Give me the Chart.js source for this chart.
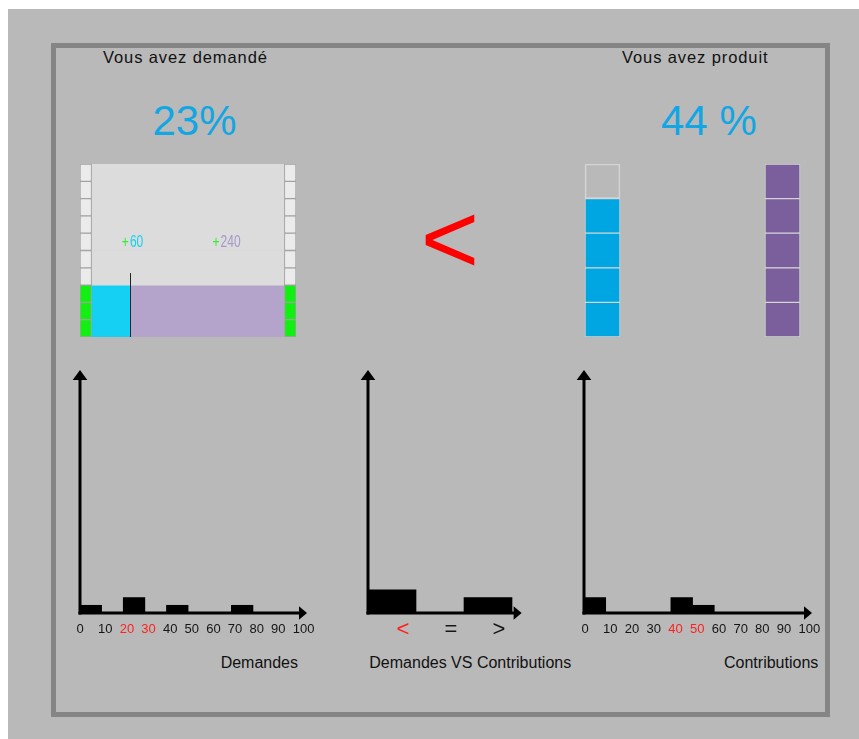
<!DOCTYPE html>
<html><head><meta charset="utf-8">
<script src="https://cdn.jsdelivr.net/npm/chart.js@4.4.1/dist/chart.umd.min.js"></script>
<style>
html,body{margin:0;padding:0;background:#fff;width:859px;height:739px;overflow:hidden;font-family:"Liberation Sans",Arial,sans-serif;}
#bg{position:absolute;left:8px;top:9px;width:851px;height:730px;background:#b9b9b9;}
#frame{position:absolute;left:51px;top:43px;width:779px;height:674px;border:5px solid #858585;box-sizing:border-box;}
.t{position:absolute;white-space:nowrap;line-height:1;color:#111;}
.head{font-size:16.5px;letter-spacing:0.9px;top:49.3px;}
.pct{font-size:42px;top:99.5px;color:#12a6e3;}
.cap{font-size:16px;top:654.8px;}
canvas{position:absolute;}
</style></head>
<body>
<div id="bg"></div>
<div id="frame"></div>
<div class="t head" style="left:103px">Vous avez demandé</div>
<div class="t head" style="left:622px">Vous avez produit</div>
<div class="t pct" id="pctDemand" style="left:152.5px"></div>
<div class="t pct" id="pctProduced" style="left:661px"></div>
<div class="t" id="bigCmp" style="left:350px;width:200px;text-align:center;font-size:100px;top:188px;color:#ff0000;"></div>
<div class="t cap" style="right:561px">Demandes</div>
<div class="t cap" style="left:369.3px">Demandes VS Contributions</div>
<div class="t cap" style="left:724px">Contributions</div>

<canvas id="topLeft" width="240" height="200" style="left:70px;top:150px"></canvas>
<canvas id="topRight" width="310" height="200" style="left:540px;top:150px"></canvas>
<canvas id="histDemand" width="271" height="300" style="left:60px;top:360px"></canvas>
<canvas id="histCompare" width="200" height="300" style="left:348px;top:360px"></canvas>
<canvas id="histContrib" width="272" height="300" style="left:564px;top:360px"></canvas>

<script>
// ---------- data ----------
const demandPercent = '23%';
const producedPercent = '44 %';
const comparisonSymbol = '<';

const demandSplit = [60, 240];          // cyan part, purple part
const demandSplitText = ['60', '240'];
const demandCellsTotal = 10;
const demandCellsFilled = 3;

const producedCellsTotal = 5;
const producedCellsFilled = [4, 5];     // cyan column, purple column

const binTicks = [0, 10, 20, 30, 40, 50, 60, 70, 80, 90, 100];
const demandCounts = [1, 0, 2, 0, 1, 0, 0, 1, 0, 0];
const demandHighlight = ['20', '30'];
const contribCounts = [2, 0, 0, 0, 2, 1, 0, 0, 0, 0];
const contribHighlight = ['40', '50'];
const compareLabels = ['<', '=', '>'];
const compareCounts = [3, 0, 2];
const compareHighlight = ['<'];

// ---------- text ----------
document.getElementById('pctDemand').textContent = demandPercent;
document.getElementById('pctProduced').textContent = producedPercent;
document.getElementById('bigCmp').textContent = comparisonSymbol;

const FONT = '"Liberation Sans", Arial, sans-serif';
Chart.defaults.font.family = FONT;
Chart.defaults.animation = false;
Chart.defaults.plugins.legend.display = false;
Chart.defaults.plugins.tooltip.enabled = false;

// ---------- top left : demand block ----------
const sideW = 18;
const splitTotal = demandSplit[0] + demandSplit[1];
const rows = Array.from({length: demandCellsTotal}, (_, i) => i);
const cGreen = '#12f012', cLight = '#ebebeb', cMain = '#dcdcdc', cCyan = '#15d0f3', cPurple = '#b4a4cc';

const demandMarks = {
  id: 'demandMarks',
  afterDatasetsDraw(chart) {
    const {ctx, chartArea, scales: {x, y}} = chart;
    const rowH = (chartArea.bottom - chartArea.top) / demandCellsTotal;
    const xm = x.getPixelForValue(demandSplit[0]);
    const fillTop = y.getPixelForValue(demandCellsFilled - 1) - rowH / 2;
    ctx.save();
    ctx.strokeStyle = '#222'; ctx.lineWidth = 1;
    ctx.beginPath(); ctx.moveTo(Math.round(xm) + 0.5, chartArea.bottom); ctx.lineTo(Math.round(xm) + 0.5, fillTop - 12); ctx.stroke();
    const base = y.getPixelForValue(5) + 5;
    const anchors = [47, 188];
    const colors = [cCyan, '#a698c8'];
    ctx.font = '16px ' + FONT;
    ctx.textBaseline = 'alphabetic';
    anchors.forEach((a, i) => {
      ctx.save();
      ctx.translate(x.getPixelForValue(a), base);
      ctx.scale(0.75, 1);
      ctx.fillStyle = '#33ee33';
      ctx.fillText('+', 0, 0);
      const w = ctx.measureText('+').width + 1.5;
      ctx.fillStyle = colors[i];
      ctx.fillText(demandSplitText[i], w, 0);
      ctx.restore();
    });
    ctx.restore();
  }
};

new Chart(document.getElementById('topLeft'), {
  type: 'bar',
  data: {
    labels: rows,
    datasets: [
      {data: rows.map(() => [-sideW, 0]), backgroundColor: rows.map(i => i < demandCellsFilled ? cGreen : cLight), borderColor: '#a2a2a2', borderWidth: 1, borderSkipped: false},
      {data: rows.map(() => [splitTotal, splitTotal + sideW]), backgroundColor: rows.map(i => i < demandCellsFilled ? cGreen : cLight), borderColor: '#a2a2a2', borderWidth: 1, borderSkipped: false},
      {data: rows.map(i => i >= demandCellsFilled ? [0, splitTotal] : null), backgroundColor: cMain},
      {data: rows.map(i => i < demandCellsFilled ? [0, demandSplit[0]] : null), backgroundColor: cCyan},
      {data: rows.map(i => i < demandCellsFilled ? [demandSplit[0], splitTotal] : null), backgroundColor: cPurple}
    ]
  },
  options: {
    responsive: false, indexAxis: 'y',
    layout: {padding: {left: 10, right: 14, top: 14, bottom: 13}},
    datasets: {bar: {grouped: false, barPercentage: 1, categoryPercentage: 1}},
    scales: {
      x: {type: 'linear', min: -sideW, max: splitTotal + sideW, display: false},
      y: {type: 'category', reverse: true, display: false}
    }
  },
  plugins: [demandMarks]
});

// ---------- top right : produced cells ----------
const producedColors = ['#00a6e2', '#7b5f9d'];
const levels = Array.from({length: producedCellsTotal}, (_, k) => k);
new Chart(document.getElementById('topRight'), {
  type: 'bar',
  data: {
    datasets: levels.map(k => ({
      stack: 's',
      data: producedCellsFilled.map((_, col) => ({x: col, y: 1})),
      backgroundColor: producedCellsFilled.map((n, col) => k < n ? producedColors[col] : 'rgba(0,0,0,0)'),
      borderColor: '#d4d4d4', borderWidth: 1, borderSkipped: false, barThickness: 35
    }))
  },
  options: {
    responsive: false,
    layout: {padding: {left: 17.5, right: 22.5, top: 14, bottom: 13}},
    scales: {
      x: {type: 'linear', min: -0.25, max: 1.25, offset: false, stacked: true, display: false},
      y: {min: 0, max: producedCellsTotal, stacked: true, display: false}
    }
  }
});

// ---------- histograms ----------
const arrowAxes = {
  id: 'arrowAxes',
  afterDatasetsDraw(chart) {
    const {ctx, chartArea: {top, right}, scales: {x, y}} = chart;
    const x0 = x.getPixelForValue(x.min), y0 = y.getPixelForValue(0);
    ctx.save();
    ctx.strokeStyle = '#000'; ctx.fillStyle = '#000'; ctx.lineWidth = 3;
    ctx.beginPath(); ctx.moveTo(x0, y0 + 1.5); ctx.lineTo(x0, top + 5); ctx.stroke();
    ctx.beginPath(); ctx.moveTo(x0 - 1.5, y0); ctx.lineTo(right - 6, y0); ctx.stroke();
    ctx.beginPath(); ctx.moveTo(x0, top - 4); ctx.lineTo(x0 - 7.3, top + 6); ctx.lineTo(x0 + 7.3, top + 6); ctx.closePath(); ctx.fill();
    ctx.beginPath(); ctx.moveTo(right, y0); ctx.lineTo(right - 8, y0 - 6.7); ctx.lineTo(right - 8, y0 + 6.7); ctx.closePath(); ctx.fill();
    ctx.restore();
  }
};

function histogram(id, c) {
  return new Chart(document.getElementById(id), {
    type: 'bar',
    data: {datasets: [{
      data: c.centers.map((v, i) => ({x: v, y: c.counts[i]})),
      backgroundColor: '#000', borderWidth: 0, barPercentage: 1, categoryPercentage: 1
    }]},
    options: {
      responsive: false,
      layout: {padding: c.padding},
      scales: {
        x: {
          type: 'linear', min: c.xMin, max: c.xMax, offset: false,
          grid: {display: false, drawTicks: false}, border: {display: false},
          afterBuildTicks: s => { s.ticks = c.tickValues.map(v => ({value: v})); },
          ticks: {
            autoSkip: false, maxRotation: 0, minRotation: 0,
            padding: c.tickPadding, align: c.align, labelOffset: c.labelOffset,
            font: {size: c.fontSize},
            callback: (v, i) => c.tickText[i],
            color: ctx => c.highlight.includes(c.tickText[ctx.index]) ? '#ff1f1f' : '#151515'
          }
        },
        y: {type: 'linear', min: 0, max: 31, display: false}
      }
    },
    plugins: [arrowAxes]
  });
}

const binCenters = demandCounts.map((_, i) => (binTicks[i] + binTicks[i + 1]) / 2);
histogram('histDemand', {
  xMin: 0, xMax: 105, tickValues: binTicks, tickText: binTicks.map(String),
  centers: binCenters, counts: demandCounts, highlight: demandHighlight,
  padding: {left: 20, right: 24, top: 14, bottom: 13.4},
  tickPadding: 9, align: 'start', labelOffset: -3.5, fontSize: 13
});
histogram('histContrib', {
  xMin: 0, xMax: 105, tickValues: binTicks, tickText: binTicks.map(String),
  centers: binCenters, counts: contribCounts, highlight: contribHighlight,
  padding: {left: 20, right: 24, top: 14, bottom: 13.4},
  tickPadding: 9, align: 'start', labelOffset: -2.6, fontSize: 13
});
const comparePos = compareLabels.map((_, i) => i + 0.5);
histogram('histCompare', {
  xMin: 0, xMax: 3.2, tickValues: comparePos, tickText: compareLabels,
  centers: comparePos, counts: compareCounts, highlight: compareHighlight,
  padding: {left: 20, right: 26.4, top: 14, bottom: 12.6},
  tickPadding: 4, align: 'center', labelOffset: 11, fontSize: 22
});
</script>
</body></html>
